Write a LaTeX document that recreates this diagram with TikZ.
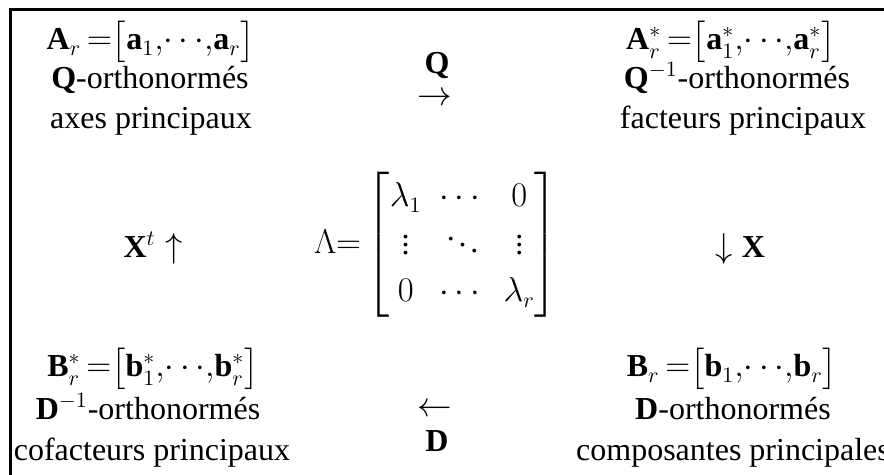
\documentclass[tikz,border=0pt]{standalone}
\usepackage{amsmath}
\usepackage{fontspec}
\setmainfont{Liberation Serif}
\newcommand{\vecseq}[3]{#1\,{=}\bigl[#2_{1}#3{,}\!\cdots\!{,}#2_{r}#3\bigr]}
\begin{document}
\begin{tikzpicture}[
        x=0.5pt, y=-0.5pt, % pixel grid, y downwards
        font=\fontsize{16}{19}\selectfont,
        txt/.style={inner sep=0pt, anchor=base, align=center},
        op/.style={inner sep=0pt},
        frame/.style={line width=1.5pt}
    ]
    \useasboundingbox (0,0) rectangle (884,475);

    % Frame (left and top rules)
    \draw[frame] (10,475) -- (10,10) -- (884,10);

    % Top left: axes principaux
    \node[txt] (Ar) at (151,50) {$\vecseq{\mathbf{A}_{r}}{\mathbf{a}}{}$};
    \node[txt] (Aorth) at (150,89) {\textbf{Q}-orthonormés};
    \node[txt] (Aname) at (151,129) {axes principaux};

    % Top right: facteurs principaux
    \node[txt] (As) at (731,50) {$\vecseq{\mathbf{A}^{*}_{r}}{\mathbf{a}}{^{*}}$};
    \node[txt] (Asorth) at (737,89) {$\mathbf{Q}^{-1}$-orthonormés};
    \node[txt] (Asname) at (743,129) {facteurs principaux};

    % Arrow Q (top)
    \node[op] (Q) at (437,66) {$\mathbf{Q}$};
    \node[op] (Qarr) at (435,99) {$\rightarrow$};

    % Middle row
    \node[txt] (Xt) at (153,258) {$\mathbf{X}^{t}\uparrow$};
    \node[op] (Lam) at (436,245) {%
        \setlength{\arraycolsep}{4.5pt}\renewcommand{\arraystretch}{1.25}%
        $\Lambda{=}\begin{bmatrix}\lambda_{1} & \cdots & 0\\ \vdots & \ddots & \vdots\\ 0 & \cdots & \lambda_{r}\end{bmatrix}$};
    \node[txt] (X) at (740,258) {$\downarrow\mathbf{X}$};

    % Bottom left: cofacteurs principaux
    \node[txt] (Bs) at (153,377) {$\vecseq{\mathbf{B}^{*}_{r}}{\mathbf{b}}{^{*}}$};
    \node[txt] (Bsorth) at (148,420) {$\mathbf{D}^{-1}$-orthonormés};
    \node[txt] (Bsname) at (152,461) {cofacteurs principaux};

    % Bottom right: composantes principales
    \node[txt] (Br) at (732,377) {$\vecseq{\mathbf{B}_{r}}{\mathbf{b}}{}$};
    \node[txt] (Borth) at (733,420) {\textbf{D}-orthonormés};
    \node[txt] (Bname) at (733,461) {composantes principales};

    % Arrow D (bottom)
    \node[op] (Darr) at (435,410) {$\leftarrow$};
    \node[op] (D) at (437,441) {$\mathbf{D}$};

\end{tikzpicture}
\end{document}
